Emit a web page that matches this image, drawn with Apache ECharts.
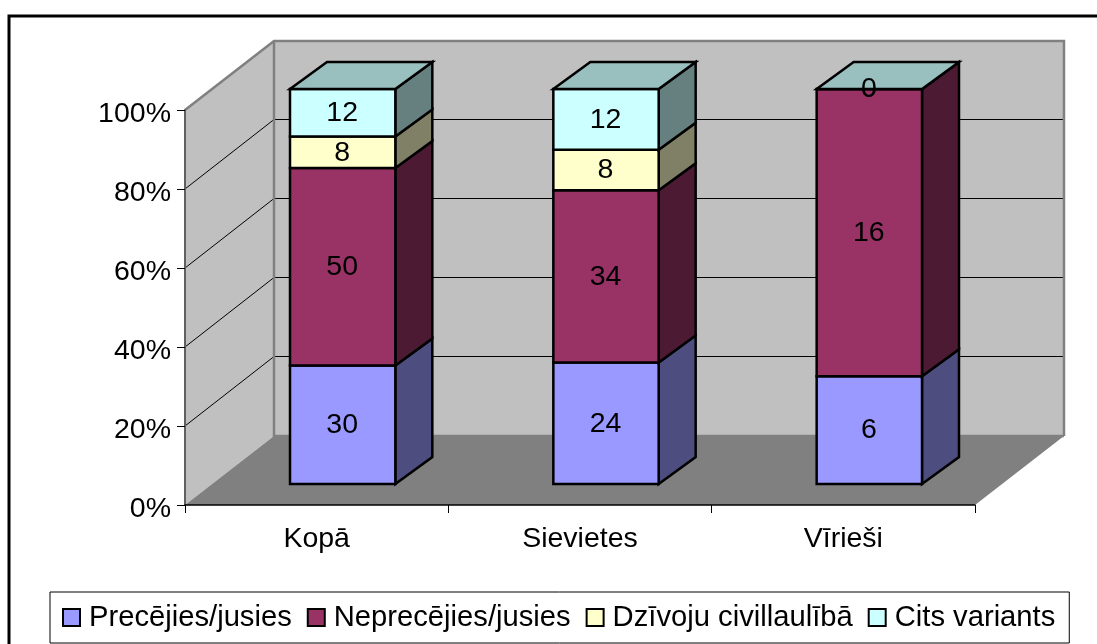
<!DOCTYPE html>
<html><head><meta charset="utf-8">
<style>html,body{margin:0;padding:0;background:#fff}#c{width:1097px;height:644px}</style>
<script src="https://cdn.jsdelivr.net/npm/echarts@6/dist/echarts.min.js"></script>
</head><body><div id="c"></div>
<script>
const categories = ['Kopā', 'Sievietes', 'Vīrieši'];
const precejies = [30, 24, 6];
const neprecejies = [50, 34, 16];
const civillaulaba = [8, 8, 0];
const cits = [12, 12, 0];
const gridTicks = [20, 40, 60, 80];

const FONT = '"Liberation Sans", Arial, sans-serif';
const DX = 89, DY = -69;      // full depth of the 3D box
const IX = 26, IY = -21;      // bar inset from the front plane
const BX = 37, BY = -27;      // bar depth

const defs = [
  {name: 'Precējies/jusies', values: precejies, face: '#9999FF', side: '#4D4D80', top: '#7373BF'},
  {name: 'Neprecējies/jusies', values: neprecejies, face: '#993366', side: '#4D1A33', top: '#732650'},
  {name: 'Dzīvoju civillaulībā', values: civillaulaba, face: '#FFFFCC', side: '#808066', top: '#BFBF99'},
  {name: 'Cits variants', values: cits, face: '#CCFFFF', side: '#668080', top: '#99BFBF'}
];
const totals = categories.map((_, i) => defs.reduce((s, d) => s + d.values[i], 0));

function poly(points, fill, stroke, lw) {
  return {type: 'polygon', shape: {points}, style: {fill, stroke: stroke || 'none', lineWidth: lw || 0, lineJoin: 'miter'}};
}

const wallSeries = {
  type: 'custom', name: 'walls', silent: true, clip: false, z: 1,
  coordinateSystem: 'cartesian2d', encode: {x: 0, y: 1},
  data: [[0, 0]],
  renderItem(params, api) {
    const w = api.size([1, 0])[0];
    const l = api.coord([0, 0])[0] - w / 2, r = l + 3 * w;
    const y0 = api.coord([0, 0])[1], y1 = api.coord([0, 100])[1];
    const kids = [
      poly([[l, y0], [l + DX, y0 + DY], [l + DX, y1 + DY], [l, y1]], '#C0C0C0'),
      poly([[l + DX, y0 + DY], [r + DX, y0 + DY], [r + DX, y1 + DY], [l + DX, y1 + DY]], '#C0C0C0'),
      poly([[l, y0], [r, y0], [r + DX, y0 + DY], [l + DX, y0 + DY]], '#808080')
    ];
    gridTicks.forEach(t => {
      const y = api.coord([0, t])[1];
      const by = Math.round(y + DY) - 0.5;
      kids.push({type: 'polyline', shape: {points: [[l, y], [l + DX, by], [r + DX, by]]},
        style: {fill: 'none', stroke: '#000', lineWidth: 1}});
    });
    kids.push({type: 'polyline', shape: {points: [[l, y1], [l + DX, y1 + DY], [r + DX, y1 + DY], [r + DX, y0 + DY]]},
      style: {fill: 'none', stroke: '#808080', lineWidth: 2.5}});
    kids.push({type: 'polyline', shape: {points: [[l + DX, y1 + DY], [l + DX, y0 + DY], [r + DX, y0 + DY]]},
      style: {fill: 'none', stroke: '#808080', lineWidth: 2.5}});
    return {type: 'group', children: kids};
  }
};

const barSeries = defs.map((d, si) => ({
  type: 'custom', name: d.name, silent: true, clip: false, z: 2 + si * 0.01,
  coordinateSystem: 'cartesian2d', encode: {x: 0, y: [1, 2]},
  itemStyle: {color: d.face},
  data: categories.map((_, i) => {
    const before = defs.slice(0, si).reduce((s, o) => s + o.values[i], 0);
    return [i, before / totals[i] * 100, (before + d.values[i]) / totals[i] * 100, d.values[i]];
  }),
  renderItem(params, api) {
    const w = api.size([1, 0])[0] * 0.4;
    const c = api.coord([api.value(0), 0])[0] + IX;
    const l = c - w / 2, r = c + w / 2;
    const y0 = api.coord([0, api.value(1)])[1] + IY;
    const y1 = api.coord([0, api.value(2)])[1] + IY;
    const kids = [
      poly([[r, y0], [r + BX, y0 + BY], [r + BX, y1 + BY], [r, y1]], d.side, '#000', 2.5),
      poly([[l, y0], [r, y0], [r, y1], [l, y1]], d.face, '#000', 2.5)
    ];
    if (si === defs.length - 1) {
      kids.push(poly([[l, y1], [r, y1], [r + BX, y1 + BY], [l + BX, y1 + BY]], d.top, '#000', 2.5));
    }
    kids.push({type: 'text', z2: 10, style: {text: String(api.value(3)), x: c - 0.5, y: (y0 + y1) / 2 + 0.5,
      align: 'center', verticalAlign: 'middle', font: '28.5px ' + FONT, fill: '#000'}});
    return {type: 'group', children: kids};
  }
}));

const chart = echarts.init(document.getElementById('c'), null, {renderer: 'canvas'});
chart.setOption({
  animation: false,
  backgroundColor: '#fff',
  graphic: [{type: 'rect', silent: true, shape: {x: 9, y: 16, width: 1100, height: 640},
    style: {fill: 'none', stroke: '#000', lineWidth: 3}}],
  grid: {left: 185, right: 122, top: 110, bottom: 139, containLabel: false},
  xAxis: {
    type: 'category', data: categories, z: 5,
    axisLine: {lineStyle: {color: '#000', width: 1.5}},
    axisTick: {show: true, length: 8, alignWithLabel: false, lineStyle: {color: '#000', width: 1}},
    axisLabel: {color: '#000', fontFamily: FONT, fontSize: 28.5, margin: 20, interval: 0},
    splitLine: {show: false}
  },
  yAxis: {
    type: 'value', min: 0, max: 100, interval: 20, z: 5,
    axisLine: {show: true, lineStyle: {color: '#606060', width: 2}},
    axisTick: {show: true, length: 8, lineStyle: {color: '#000', width: 1}},
    axisLabel: {color: '#000', margin: 14, formatter: '{v|{value}%}',
      rich: {v: {color: '#000', fontFamily: FONT, fontSize: 28.5, padding: [8, 0, 0, 0]}}},
    splitLine: {show: false}
  },
  legend: {
    left: 50, top: 592, orient: 'horizontal', selectedMode: false,
    backgroundColor: '#fff', borderColor: '#000', borderWidth: 1,
    padding: [11, 14, 11, 12], itemGap: 15, itemWidth: 17, itemHeight: 17,
    textStyle: {color: '#000', fontFamily: FONT, fontSize: 29.2, padding: [0, 0, 0, 4]},
    data: defs.map(d => ({name: d.name, icon: 'rect',
      itemStyle: {color: d.face, borderColor: '#000', borderWidth: 2}}))
  },
  series: [wallSeries].concat(barSeries)
});
</script></body></html>
